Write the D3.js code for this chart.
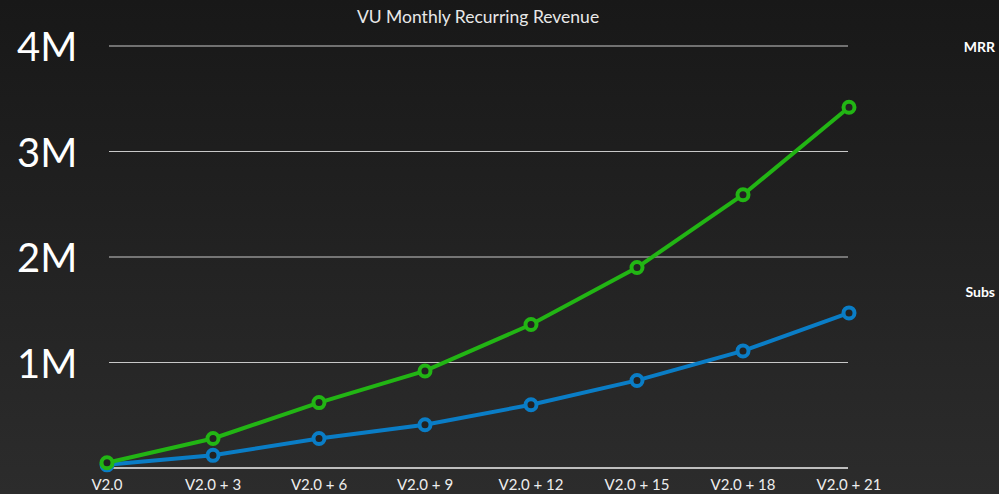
<!DOCTYPE html>
<html lang="en">
    <head>
        <meta charset="utf-8">
        <title>VU Monthly Recurring Revenue</title>
        <script type="text/javascript" src="https://cdn.jsdelivr.net/npm/d3@7"></script>
        <style type="text/css">
            body { margin: 0; background: #1a1a1a; }
            svg { display: block; }
        </style>
    </head>

    <body>
        <script type="text/javascript">
            // Data (values in millions)
            var categories = ["V2.0", "V2.0 + 3", "V2.0 + 6", "V2.0 + 9", "V2.0 + 12", "V2.0 + 15", "V2.0 + 18", "V2.0 + 21"];
            var mrrValues = [0.05, 0.28, 0.62, 0.92, 1.36, 1.90, 2.59, 3.42];
            var subsValues = [0.03, 0.12, 0.28, 0.41, 0.60, 0.83, 1.11, 1.47];
            var yTicks = [0, 1, 2, 3, 4];
            var yTickLabels = ["", "1M", "2M", "3M", "4M"];

            var w = 999;
            var h = 494;

            var svg = d3.select("body")
                        .append("svg")
                        .attr("width", w)
                        .attr("height", h);

            // Background gradient, darker at the top
            var grad = svg.append("defs")
                          .append("linearGradient")
                          .attr("id", "bg")
                          .attr("x1", 0).attr("y1", 0)
                          .attr("x2", 0).attr("y2", 1);
            grad.append("stop").attr("offset", "0%").attr("stop-color", "#181818");
            grad.append("stop").attr("offset", "100%").attr("stop-color", "#2c2c2c");
            svg.append("rect")
               .attr("width", w)
               .attr("height", h)
               .attr("fill", "url(#bg)");

            var xScale = d3.scalePoint()
                           .domain(categories)
                           .range([107, 849]);
            var yScale = d3.scaleLinear()
                           .domain([0, 4])
                           .range([468, 46]);

            // Gridlines
            svg.selectAll("line.grid")
               .data(yTicks)
               .enter()
               .append("line")
               .attr("class", "grid")
               .attr("x1", 109)
               .attr("x2", 848)
               .attr("y1", function(d) { return yScale(d); })
               .attr("y2", function(d) { return yScale(d); })
               .attr("stroke", function(d) { return d === 0 ? "#f0f0f0" : "#c8c8c8"; })
               .attr("stroke-width", function(d) { return d === 0 ? 1.5 : 1; });

            // Y labels
            svg.selectAll("text.ylab")
               .data(yTicks)
               .enter()
               .append("text")
               .attr("class", "ylab")
               .text(function(d, i) { return yTickLabels[i]; })
               .attr("x", 17)
               .attr("y", function(d) { return yScale(d) + 15; })
               .attr("font-family", "Lato, sans-serif")
               .attr("font-weight", 400)
               .attr("font-size", "40px")
               .attr("fill", "#ffffff");

            // X labels
            svg.selectAll("text.xlab")
               .data(categories)
               .enter()
               .append("text")
               .attr("class", "xlab")
               .text(function(d) { return d; })
               .attr("x", function(d) { return xScale(d); })
               .attr("y", 490)
               .attr("text-anchor", "middle")
               .attr("font-family", "Lato, sans-serif")
               .attr("font-size", "15px")
               .attr("fill", "#eeeeee");

            // Title
            svg.append("text")
               .text("VU Monthly Recurring Revenue")
               .attr("x", 478)
               .attr("y", 23)
               .attr("text-anchor", "middle")
               .attr("font-family", "Lato, sans-serif")
               .attr("font-size", "17.5px")
               .attr("fill", "#e8e8e8");

            // Legend labels on the right
            svg.append("text")
               .text("MRR")
               .attr("x", 995)
               .attr("y", 52)
               .attr("text-anchor", "end")
               .attr("font-family", "Lato, sans-serif")
               .attr("font-weight", "bold")
               .attr("font-size", "14px")
               .attr("fill", "#ffffff");
            svg.append("text")
               .text("Subs")
               .attr("x", 995)
               .attr("y", 297)
               .attr("text-anchor", "end")
               .attr("font-family", "Lato, sans-serif")
               .attr("font-weight", "bold")
               .attr("font-size", "14px")
               .attr("fill", "#ffffff");

            var line = d3.line()
                         .x(function(d, i) { return xScale(categories[i]); })
                         .y(function(d) { return yScale(d); });

            function drawSeries(values, color, cls) {
                svg.append("path")
                   .datum(values)
                   .attr("d", line)
                   .attr("fill", "none")
                   .attr("stroke", color)
                   .attr("stroke-width", 4);
                svg.selectAll("circle." + cls)
                   .data(values)
                   .enter()
                   .append("circle")
                   .attr("class", cls)
                   .attr("cx", function(d, i) { return xScale(categories[i]); })
                   .attr("cy", function(d) { return yScale(d); })
                   .attr("r", 5.5)
                   .attr("fill", "#222222")
                   .attr("stroke", color)
                   .attr("stroke-width", 4);
            }

            drawSeries(subsValues, "#0a7dc6", "subs");
            drawSeries(mrrValues, "#22b514", "mrr");
        </script>
    </body>
</html>
